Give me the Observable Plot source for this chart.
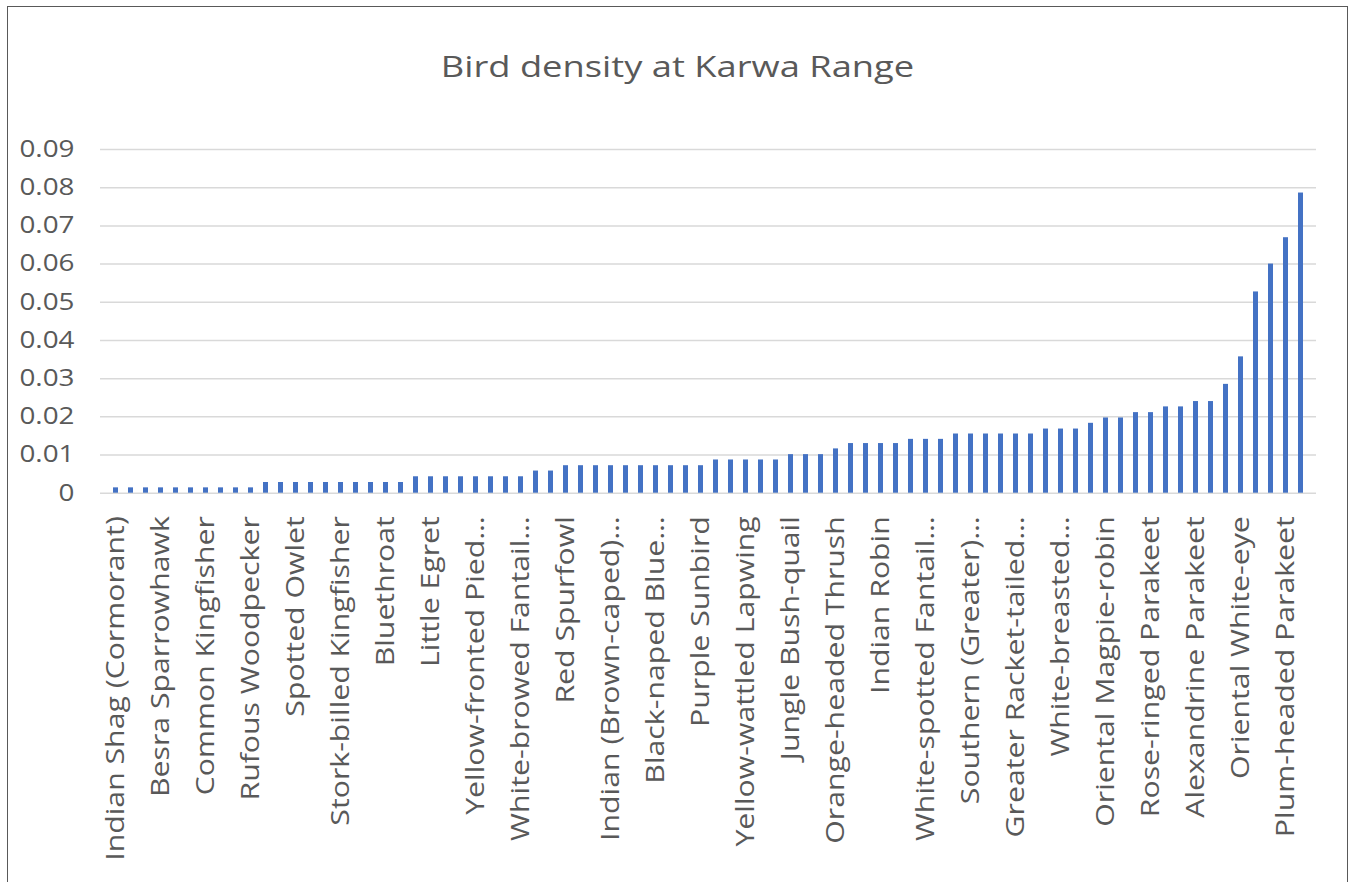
<!DOCTYPE html>
<html>
<head>
<meta charset="utf-8">
<script src="https://cdn.jsdelivr.net/npm/d3@7"></script>
<script src="https://cdn.jsdelivr.net/npm/@observablehq/plot@0.6"></script>
<style>
  html, body { margin: 0; padding: 0; background: #fff; }
  body { width: 1351px; height: 882px; position: relative; overflow: hidden; font-family: "Open Sans", sans-serif; }
  #frame { position: absolute; left: 7px; top: 6px; width: 1339px; height: 1000px; border: 1.5px solid #595959; box-sizing: content-box; }
  #title { position: absolute; left: 2px; top: 51px; width: 1351px; text-align: center; font-size: 30px; line-height: 30px; color: #595959; transform: scaleX(1.21); transform-origin: 675.5px 0; }
  #chart { position: absolute; left: 0; top: 100px; }
</style>
</head>
<body>
<div id="frame"></div>
<div id="title">Bird density at Karwa Range</div>
<div id="chart"></div>
<script>
// Tick labels shown on the x axis (every third species)
const tickLabels = [
  "Indian Shag (Cormorant)", "Besra Sparrowhawk", "Common Kingfisher", "Rufous Woodpecker",
  "Spotted Owlet", "Stork-billed Kingfisher", "Bluethroat", "Little Egret",
  "Yellow-fronted Pied…", "White-browed Fantail…", "Red Spurfowl", "Indian (Brown-caped)…",
  "Black-naped Blue…", "Purple Sunbird", "Yellow-wattled Lapwing", "Jungle Bush-quail",
  "Orange-headed Thrush", "Indian Robin", "White-spotted Fantail…", "Southern (Greater)…",
  "Greater Racket-tailed…", "White-breasted…", "Oriental Magpie-robin", "Rose-ringed Parakeet",
  "Alexandrine Parakeet", "Oriental White-eye", "Plum-headed Parakeet"
];

// Density per species (80 species, sorted ascending)
const density = [
  0.0014, 0.0014, 0.0014, 0.0014, 0.0014, 0.0014, 0.0014, 0.0014, 0.0014, 0.0014,
  0.0028, 0.0028, 0.0028, 0.0028, 0.0028, 0.0028, 0.0028, 0.0028, 0.0028, 0.0028,
  0.0043, 0.0043, 0.0043, 0.0043, 0.0043, 0.0043, 0.0043, 0.0043,
  0.0058, 0.0058,
  0.0072, 0.0072, 0.0072, 0.0072, 0.0072, 0.0072, 0.0072, 0.0072, 0.0072, 0.0072,
  0.0087, 0.0087, 0.0087, 0.0087, 0.0087,
  0.0101, 0.0101, 0.0101,
  0.0116,
  0.0130, 0.0130, 0.0130, 0.0130,
  0.0141, 0.0141, 0.0141,
  0.0155, 0.0155, 0.0155, 0.0155, 0.0155, 0.0155,
  0.0168, 0.0168, 0.0168,
  0.0183,
  0.0197, 0.0197,
  0.0211, 0.0211,
  0.0226, 0.0226,
  0.0240, 0.0240,
  0.0285, 0.0357, 0.0527, 0.0600, 0.0669, 0.0786
];

const yTicks = [0, 0.01, 0.02, 0.03, 0.04, 0.05, 0.06, 0.07, 0.08, 0.09];

const speciesIndex = d3.range(density.length);
const data = density.map((v, i) => ({ i, v }));
const labelledIndex = speciesIndex.filter(i => i % 3 === 0);

const chart = Plot.plot({
  width: 1351,
  height: 782,
  marginLeft: 100,
  marginRight: 35,
  marginTop: 49,
  marginBottom: 389.3,
  style: { fontFamily: "Open Sans, sans-serif", color: "#595959", background: "transparent", overflow: "visible" },
  x: { type: "band", domain: speciesIndex, paddingInner: 0.69, paddingOuter: 0.345, label: null },
  y: { domain: [0, 0.09], label: null },
  marks: [
    Plot.gridY(yTicks, { stroke: "#d9d9d9", strokeOpacity: 1, strokeWidth: 1.5 }),
    Plot.barY(data, { x: "i", y: "v", fill: "#4472C4" }),
    Plot.axisY(yTicks, {
      tickSize: 0, tickPadding: 26, fontSize: 23, fill: "#595959",
      tickFormat: d => d === 0 ? "0" : d.toFixed(2)
    }),
    Plot.axisX(labelledIndex, {
      tickSize: 0, tickPadding: 23, tickRotate: -90, fontSize: 25, fill: "#595959", dx: 0,
      tickFormat: i => tickLabels[i / 3]
    })
  ]
});
document.getElementById("chart").appendChild(chart);

// Widen the axis label glyphs along their reading direction, as in the reference
d3.select(chart).selectAll('g[aria-label="x-axis tick label"] text, g[aria-label="y-axis tick label"] text')
  .each(function () {
    const el = d3.select(this);
    let t = el.attr("transform");
    if (!t) {
      const x = +el.attr("x") || 0, y = +el.attr("y") || 0;
      el.attr("x", null).attr("y", null);
      t = `translate(${x},${y})`;
    }
    el.attr("transform", t + " scale(1.21,1)");
  });
</script>
</body>
</html>
